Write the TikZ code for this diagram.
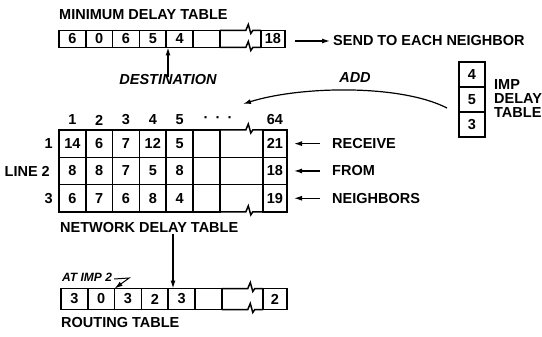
\documentclass[tikz,border=0pt]{standalone}
\usepackage{fontspec}
\setmainfont{Liberation Sans}
\usetikzlibrary{arrows.meta}

\tikzset{
  tab/.style={line width=1.5pt},
  cell/.style={draw, tab, minimum width=26.8pt, inner sep=0pt, outer sep=0pt,
    font=\fontsize{14.5}{14}\selectfont\bfseries},
  txt/.style={inner sep=0pt, font=\fontsize{14.5}{14}\selectfont\bfseries},
  itxt/.style={inner sep=0pt, font=\fontsize{14.5}{14}\selectfont\bfseries\itshape},
  arr/.style={-{Latex[length=8pt,width=5pt]}, line width=1.2pt},
}

\begin{document}
\begin{tikzpicture}[x=1pt, y=-1pt]
  \useasboundingbox (0,0) rectangle (542,337);

  % minimum delay table
  \node[txt, anchor=west] (mdt-title) at (59,15) {MINIMUM DELAY TABLE};
  \foreach \v [count=\c] in {6,0,6,5,4}
    \node[cell, minimum height=17pt] (mdt-\c) at ({59+26.8*(\c-0.5)},39) {\v};
  \node[cell, minimum height=17pt] (mdt-6) at ({59+26.8*5.5},39) {};
  \node[cell, minimum height=17pt, minimum width=24pt] (mdt-last) at (273,39) {18};
  \draw[tab] (mdt-6.north east) -- ++(26,0) -- ++(2.5,-6) -- ++(2.5,9) -- ++(2,-3) -- (mdt-last.north west);
  \draw[tab] (mdt-6.south east) -- ++(26,0) -- ++(2.5,-6) -- ++(2.5,9) -- ++(2,-3) -- (mdt-last.south west);

  \node[txt, anchor=west] (send) at (333,41) {SEND TO EACH NEIGHBOR};
  \draw[arr, shorten <=10pt, shorten >=3pt] (mdt-last.east |- send.west) -- (send.west);

  \node[itxt] (dest) at (168,80) {DESTINATION};
  \draw[arr] ([yshift=-2pt]dest.north) -- (dest.north |- mdt-5.south);

  % imp delay table
  \foreach \v [count=\i] in {4,5,3}
    \node[cell, minimum width=26pt, minimum height=25pt] (imp-\i) at (472,{62+25*(\i-0.5)}) {\v};
  \node[txt, anchor=west, align=left] (imp-lbl) at (494,99) {IMP\\DELAY\\TABLE};

  \coordinate (add-from) at (447,108);
  \coordinate (add-to) at (243,104);
  \draw[arr] (add-from) .. controls (400,84) and (300,86) .. (add-to);
  \node[itxt] (add) at (355,78) {ADD};

  % network delay table
  \foreach \h [count=\c] in {1,2,3,4,5}
    \node[txt] (col-\c) at ({59+26.8*(\c-0.5)},120) {\h};
  \node[txt] (col-dots) at (218,120) {·\,\,\,·\,\,\,·};
  \node[txt] (col-64) at (275,120) {64};

  \foreach \vals/\r/\y/\last in {{14,6,7,12,5}/1/143.65/21, {8,8,7,5,8}/2/170.95/18, {6,7,6,8,4}/3/198.25/19} {
    \foreach \v [count=\c] in \vals
      \node[cell, minimum height=27.3pt] (ndt-\r-\c) at ({59+26.8*(\c-0.5)},\y) {\v};
    \node[cell, minimum height=27.3pt] (ndt-\r-6) at ({59+26.8*5.5},\y) {};
    \node[cell, minimum height=27.3pt, minimum width=24pt] (ndt-\r-last) at (275,\y) {\last};
  }
  \draw[tab] (ndt-1-6.north east) -- ++(26,0) -- ++(2.5,-6) -- ++(2.5,9) -- ++(2,-3) -- (ndt-1-last.north west);
  \draw[tab] (ndt-1-6.south east) -- (ndt-1-last.south west);
  \draw[tab] (ndt-2-6.south east) -- (ndt-2-last.south west);
  \draw[tab] (ndt-3-6.south east) -- ++(26,0) -- ++(2.5,-6) -- ++(2.5,9) -- ++(2,-3) -- (ndt-3-last.south west);

  \node[txt, anchor=east] (row-1) at (53,143.65) {1};
  \node[txt, anchor=east] (row-2) at (50,170.95) {LINE 2};
  \node[txt, anchor=east] (row-3) at (53,198.25) {3};

  \node[txt, anchor=west] (rcv) at (332,143.65) {RECEIVE};
  \node[txt, anchor=west] (from) at (332,170.95) {FROM};
  \node[txt, anchor=west] (nbrs) at (332,198.25) {NEIGHBORS};
  \draw[arr, shorten <=12pt, shorten >=7pt] (rcv.west) -- (ndt-1-last.east);
  \draw[arr, shorten <=12pt, shorten >=7pt] (from.west) -- (ndt-2-last.east);
  \draw[arr, shorten <=12pt, shorten >=7pt] (nbrs.west) -- (ndt-3-last.east);

  \node[txt, anchor=west] (ndt-title) at (60,228) {NETWORK DELAY TABLE};

  % routing table
  \foreach \v [count=\c] in {3,0,3,2,3}
    \node[cell, minimum height=21pt] (rt-\c) at ({61+26.8*(\c-0.5)},299) {\v};
  \node[cell, minimum height=21pt] (rt-6) at ({61+26.8*5.5},299) {};
  \node[cell, minimum height=21pt, minimum width=24pt] (rt-last) at (275,299) {2};
  \draw[tab] (rt-6.north east) -- ++(26,0) -- ++(2.5,-6) -- ++(2.5,9) -- ++(2,-3) -- (rt-last.north west);
  \draw[tab] (rt-6.south east) -- ++(26,0) -- ++(2.5,-6) -- ++(2.5,9) -- ++(2,-3) -- (rt-last.south west);
  \node[txt, anchor=west] (rt-title) at (61,323) {ROUTING TABLE};

  \coordinate (down) at (173,234);
  \draw[arr] (down) -- (down |- rt-5.north);

  \node[itxt, anchor=west, font=\fontsize{12}{12}\selectfont\bfseries\itshape] (at-imp) at (62,277) {AT IMP 2};
  \draw[arr, line width=1pt] ([xshift=2pt,yshift=-2pt]at-imp.east) -- ++(15,-1) -- (rt-2.north east);
\end{tikzpicture}
\end{document}
